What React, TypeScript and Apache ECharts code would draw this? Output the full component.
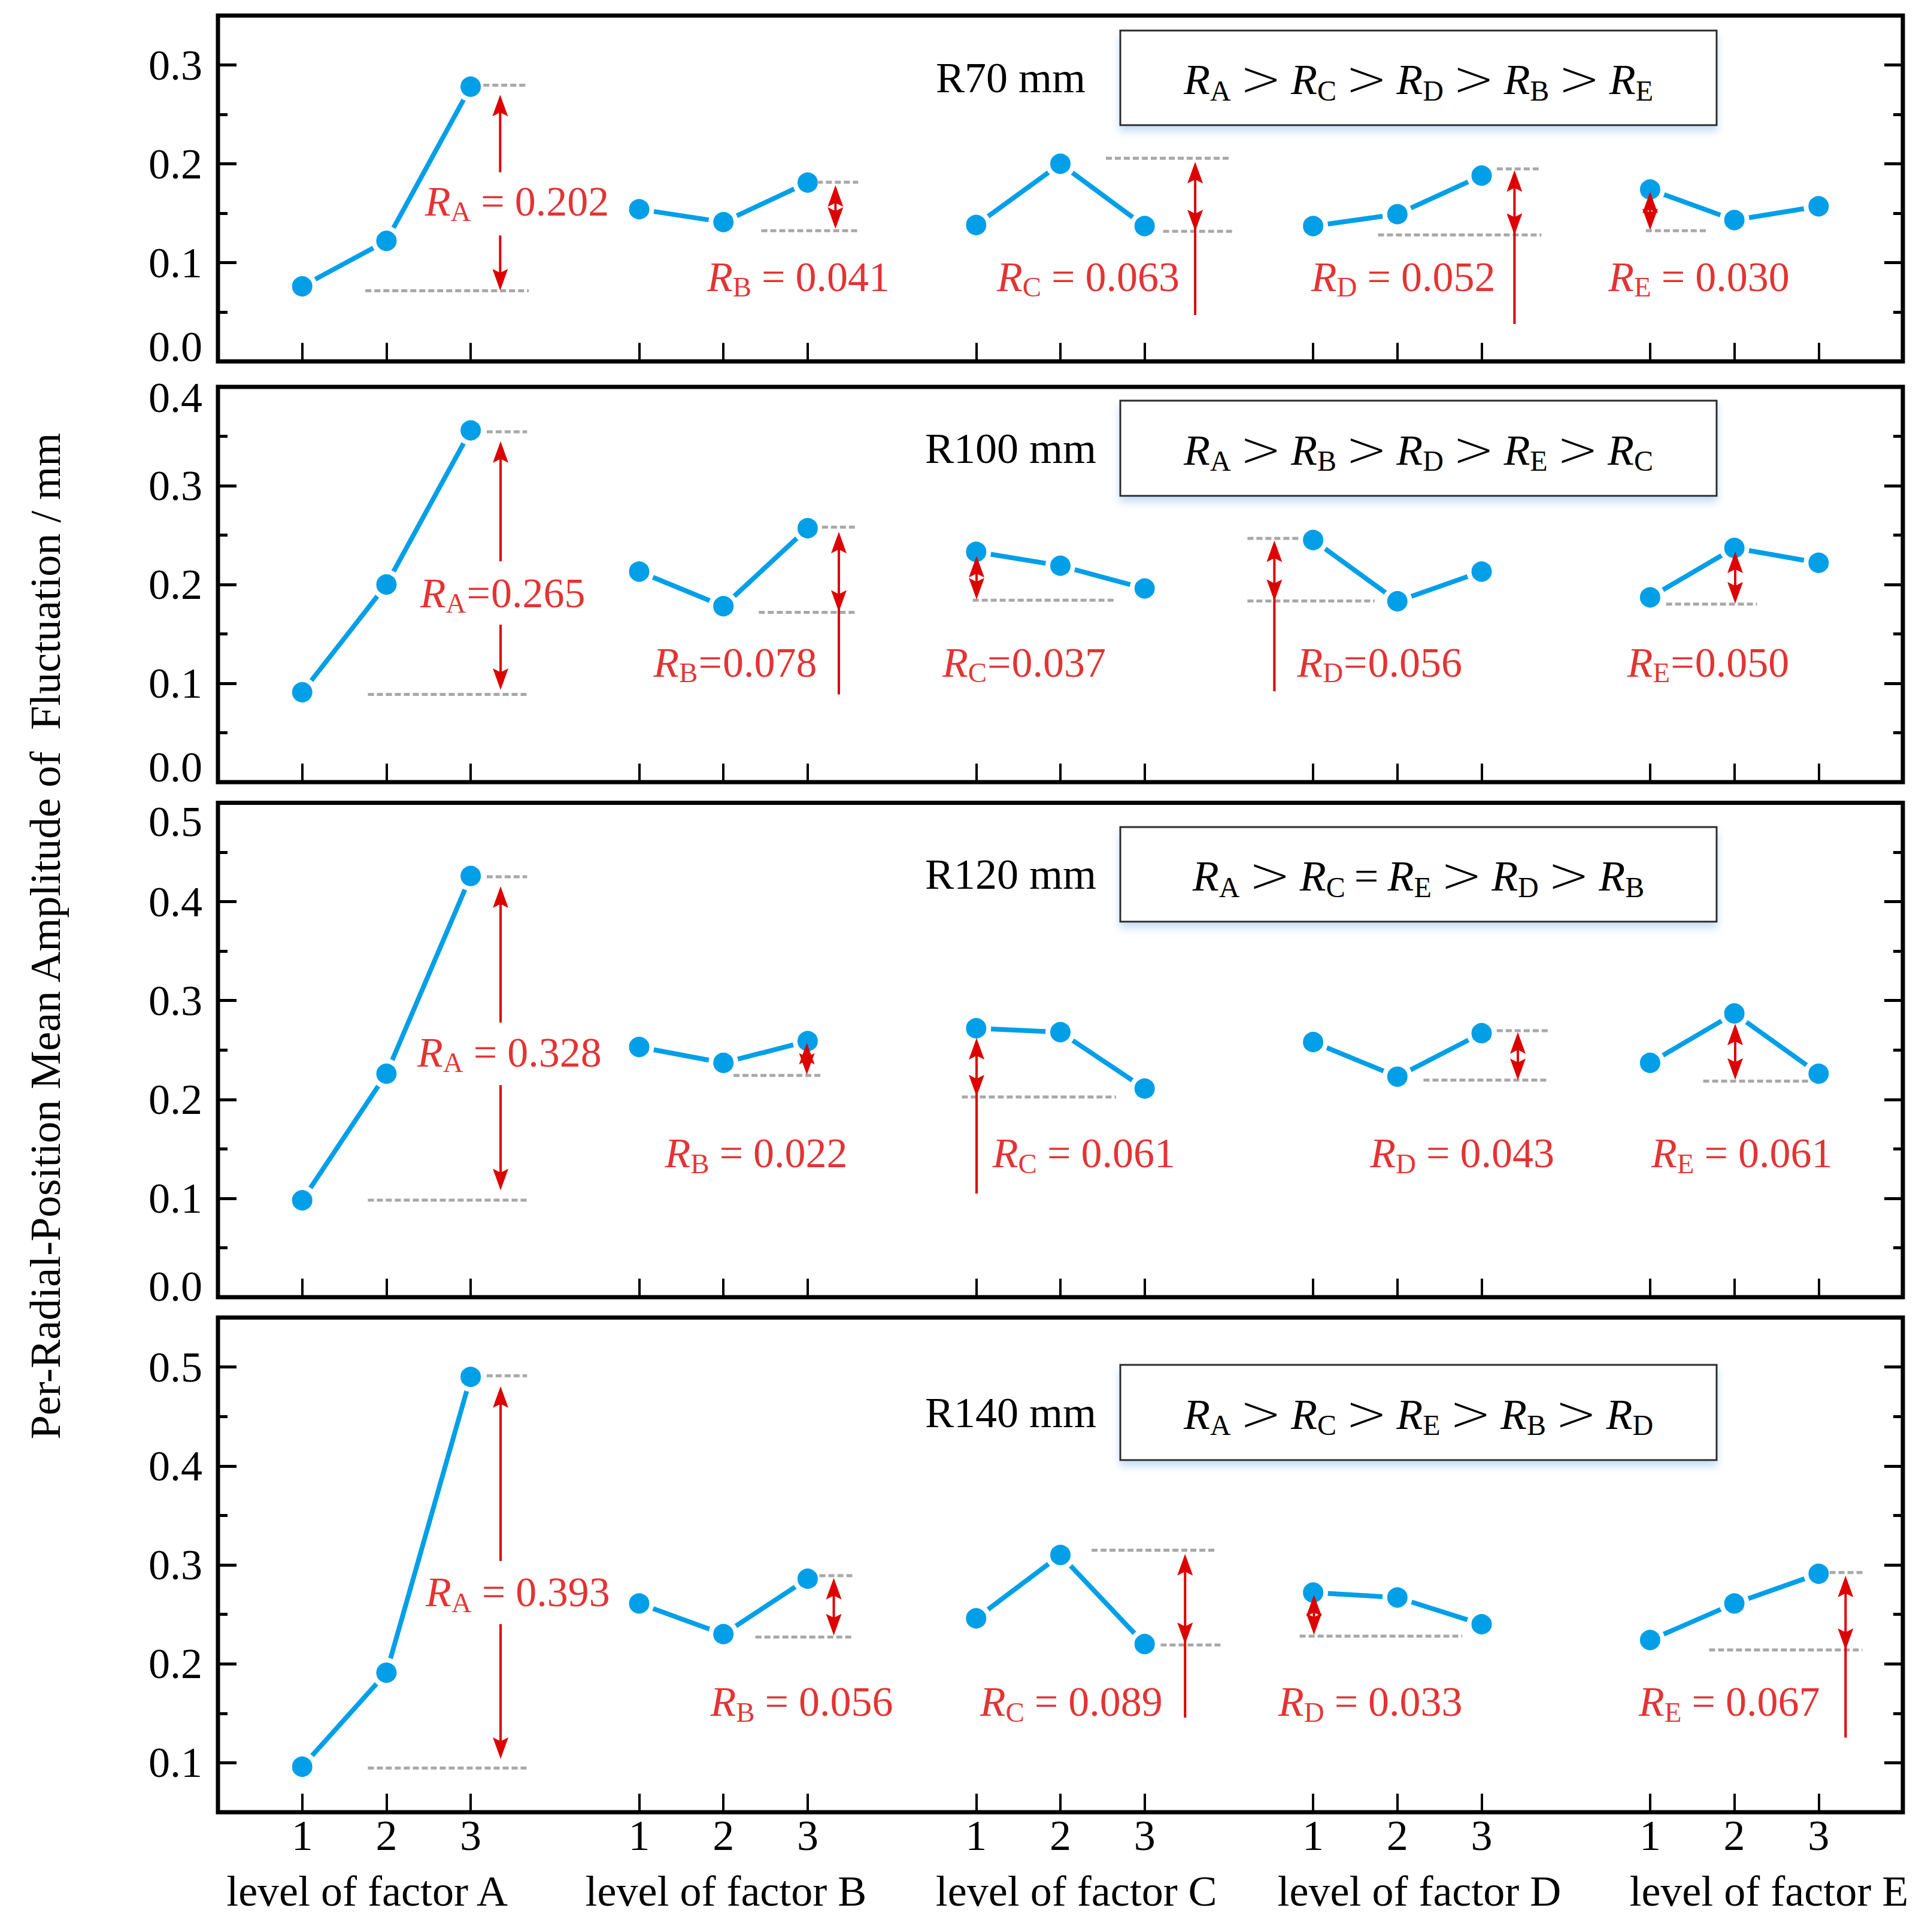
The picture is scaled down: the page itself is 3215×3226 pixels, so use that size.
import React, { useEffect, useRef } from 'react';
import * as echarts from 'echarts';

// ---------------- data ----------------
const FACTORS = ['A', 'B', 'C', 'D', 'E'];
const LEVEL_X = [[1, 2, 3], [5, 6, 7], [9, 10, 11], [13, 14, 15], [17, 18, 19]];
const X_TICKS = [1, 2, 3, 5, 6, 7, 9, 10, 11, 13, 14, 15, 17, 18, 19];
const X_TICK_LABELS = ['1', '2', '3'];
const FACTOR_TITLE_X = [1.77, 6.03, 10.19, 14.26, 18.41];
const FACTOR_TITLES = ['level of factor A', 'level of factor B', 'level of factor C', 'level of factor D', 'level of factor E'];
const Y_TITLE = 'Per-Radial-Position Mean Amplitude of  Fluctuation / mm';

const PANEL_NAMES = ['R70 mm', 'R100 mm', 'R120 mm', 'R140 mm'];

// mean amplitude per factor (A..E) per level (1..3)
const R70 = [[0.076, 0.122, 0.278], [0.154, 0.141, 0.181], [0.138, 0.200, 0.137], [0.137, 0.149, 0.188], [0.174, 0.143, 0.157]];
const R100 = [[0.091, 0.200, 0.356], [0.213, 0.178, 0.257], [0.233, 0.219, 0.196], [0.245, 0.183, 0.213], [0.187, 0.237, 0.222]];
const R120 = [[0.098, 0.226, 0.426], [0.253, 0.237, 0.259], [0.272, 0.268, 0.211], [0.258, 0.223, 0.267], [0.237, 0.287, 0.226]];
const R140 = [[0.096, 0.191, 0.490], [0.261, 0.230, 0.286], [0.246, 0.310, 0.220], [0.272, 0.267, 0.240], [0.224, 0.261, 0.291]];

// range values
const RANGE_R70 = ['0.202', '0.041', '0.063', '0.052', '0.030'];
const RANGE_R100 = ['0.265', '0.078', '0.037', '0.056', '0.050'];
const RANGE_R120 = ['0.328', '0.022', '0.061', '0.043', '0.061'];
const RANGE_R140 = ['0.393', '0.056', '0.089', '0.033', '0.067'];

// ranking
const RANK_R70 = ['A', 'C', 'D', 'B', 'E'];
const RANK_R100 = ['A', 'B', 'D', 'E', 'C'];
const RANK_R120 = ['A', 'C', 'E', 'D', 'B'];
const RANK_R140 = ['A', 'C', 'E', 'B', 'D'];
const OPS_R70 = ['>', '>', '>', '>'];
const OPS_R100 = ['>', '>', '>', '>'];
const OPS_R120 = ['>', '=', '>', '>'];
const OPS_R140 = ['>', '>', '>', '>'];

// y axes
const Y_MIN = [0, 0, 0, 0.05];
const Y_MAX = [0.35, 0.4, 0.5, 0.55];
const Y_MAJOR_R70 = [0, 0.1, 0.2, 0.3];
const Y_MAJOR_R100 = [0, 0.1, 0.2, 0.3, 0.4];
const Y_MAJOR_R120 = [0, 0.1, 0.2, 0.3, 0.4, 0.5];
const Y_MAJOR_R140 = [0.1, 0.2, 0.3, 0.4, 0.5];
const Y_MINOR_R70 = [0.05, 0.15, 0.25];
const Y_MINOR_R100 = [0.05, 0.15, 0.25, 0.35];
const Y_MINOR_R120 = [0.05, 0.15, 0.25, 0.35, 0.45];
const Y_MINOR_R140 = [0.15, 0.25, 0.35, 0.45];

// dashed reference lines [x0, y, x1]
const DASH_R70 = [
  [3.15, 0.2795, 3.67], [1.75, 0.0715, 3.69],
  [7.11, 0.1814, 7.60], [6.45, 0.1323, 7.60],
  [10.54, 0.2056, 12.03], [11.22, 0.1317, 12.05],
  [15.18, 0.1948, 15.69], [13.77, 0.1281, 15.71],
  [16.95, 0.1323, 17.67],
];
const DASH_R100 = [
  [3.19, 0.3546, 3.67], [1.78, 0.0888, 3.69],
  [7.17, 0.258, 7.56], [6.42, 0.1718, 7.59],
  [8.96, 0.1841, 10.66],
  [12.22, 0.2466, 12.84], [12.22, 0.1833, 13.73],
  [17.19, 0.1801, 18.27],
];
const DASH_R120 = [
  [3.19, 0.4252, 3.67], [1.78, 0.0981, 3.69],
  [6.12, 0.2243, 7.17],
  [8.83, 0.2024, 10.66],
  [15.18, 0.2695, 15.79], [14.31, 0.2195, 15.79],
  [17.63, 0.2185, 18.91],
];
const DASH_R140 = [
  [3.19, 0.4912, 3.67], [1.78, 0.0947, 3.69],
  [7.14, 0.2891, 7.53], [6.38, 0.2270, 7.53],
  [10.37, 0.3149, 11.86], [11.19, 0.219, 11.90],
  [12.84, 0.228, 14.77],
  [19.13, 0.2923, 19.54], [17.70, 0.2141, 19.52],
];

// range arrows [x, yTop(up tip), yHead(down tip), yEnd, gapHi, gapLo]
const ARROW_R70 = [
  [3.35, 0.2698, 0.0718, 0.0718, 0.1914, 0.1275],
  [7.33, 0.1784, 0.1342, 0.1342, 0, 0],
  [11.6, 0.202, 0.1317, 0.047, 0, 0],
  [15.39, 0.1935, 0.1281, 0.0379, 0, 0],
  [17.0, 0.1717, 0.1329, 0.1329, 0, 0],
];
const ARROW_R100 = [
  [3.355, 0.345, 0.0933, 0.0933, 0.2235, 0.1594],
  [7.37, 0.2534, 0.1724, 0.0888, 0, 0],
  [9.005, 0.229, 0.1848, 0.1848, 0, 0],
  [12.54, 0.2445, 0.1833, 0.0919, 0, 0],
  [18.01, 0.2334, 0.1807, 0.1807, 0, 0],
];
const ARROW_R120 = [
  [3.355, 0.4155, 0.1081, 0.1081, 0.2777, 0.2144],
  [6.99, 0.2573, 0.225, 0.225, 0, 0],
  [9.005, 0.2621, 0.203, 0.1048, 0, 0],
  [15.43, 0.268, 0.2195, 0.2195, 0, 0],
  [18.01, 0.2767, 0.2199, 0.2199, 0, 0],
];
const ARROW_R140 = [
  [3.355, 0.4805, 0.1038, 0.1038, 0.3039, 0.2401],
  [7.31, 0.2868, 0.2287, 0.2287, 0, 0],
  [11.48, 0.311, 0.22, 0.1456, 0, 0],
  [13.01, 0.2698, 0.2293, 0.2293, 0, 0],
  [19.32, 0.2891, 0.2141, 0.1254, 0, 0],
];

// range label anchors [x, y]
const LABEL_R70 = [[3.55, 0.162], [6.89, 0.0857], [10.33, 0.0857], [14.07, 0.0857], [17.58, 0.0857]];
const LABEL_R100 = [[3.38, 0.1914], [6.14, 0.1211], [9.57, 0.1211], [13.79, 0.1211], [17.69, 0.1211]];
const LABEL_R120 = [[3.46, 0.2477], [6.39, 0.1454], [10.28, 0.1454], [14.77, 0.1454], [18.09, 0.1454]];
const LABEL_R140 = [[3.56, 0.2722], [6.93, 0.1615], [10.13, 0.1615], [13.68, 0.1615], [17.94, 0.1615]];

// ---------------- assembly ----------------
const VALUES = [R70, R100, R120, R140];
const RANGES = [RANGE_R70, RANGE_R100, RANGE_R120, RANGE_R140];
const RANKS = [RANK_R70, RANK_R100, RANK_R120, RANK_R140];
const OPS = [OPS_R70, OPS_R100, OPS_R120, OPS_R140];
const Y_MAJOR = [Y_MAJOR_R70, Y_MAJOR_R100, Y_MAJOR_R120, Y_MAJOR_R140];
const Y_MINOR = [Y_MINOR_R70, Y_MINOR_R100, Y_MINOR_R120, Y_MINOR_R140];
const DASHES = [DASH_R70, DASH_R100, DASH_R120, DASH_R140];
const ARROWS = [ARROW_R70, ARROW_R100, ARROW_R120, ARROW_R140];
const LABELS = [LABEL_R70, LABEL_R100, LABEL_R120, LABEL_R140];
const EQ_SPACED = [true, false, true, true];

const SERIF = "'Liberation Serif', 'Times New Roman', serif";
const GT_FONT = "'DejaVu Sans', sans-serif";
const BLUE = '#009FE8';
const RED = '#DD0000';
const GRAY = '#A8A8A8';

const W = 3215;
const H = 3226;
const GRID_LEFT = 364;
const GRID_WIDTH = 2814;
const PANEL_TOP = [26, 646, 1340.5, 2200];
const PANEL_HEIGHT = [577.5, 660, 825.5, 826];
const MIN_LABEL_PAD = [50, 50, 36, 0];
const MAX_LABEL_PAD = [0, 36, 62, 0];
const BOXES = [[1871, 51, 996, 158], [1871, 669, 996, 159], [1871, 1381, 996, 158], [1871, 2279, 996, 159]];
const PANEL_NAME_X = 1688;
const BOX_TEXT_X = 2369;

const HEAD_L = 36;
const HEAD_W = 26;

function buildOption() {
  const grid: any[] = [];
  const xAxis: any[] = [];
  const yAxis: any[] = [];
  const series: any[] = [];
  const title: any[] = [];
  const graphic: any[] = [];

  for (let p = 0; p < 4; p++) {
    grid.push({
      left: GRID_LEFT, top: PANEL_TOP[p], width: GRID_WIDTH, height: PANEL_HEIGHT[p],
      show: true, borderColor: '#000', borderWidth: 7, backgroundColor: 'transparent',
    });

    xAxis.push({
      gridIndex: p, type: 'value', min: 0, max: 20, position: 'bottom',
      splitLine: { show: false }, axisLine: { show: false },
      axisTick: { show: true, inside: true, length: 31, lineStyle: { color: '#000', width: 4 }, customValues: X_TICKS },
      axisLabel: p === 3
        ? {
          show: true, customValues: X_TICKS, margin: 3, fontSize: 72, fontFamily: SERIF, color: '#000',
          formatter: (v: number) => X_TICK_LABELS[(Math.round(v) - 1) % 4],
        }
        : { show: false },
    });

    const common = {
      gridIndex: p, type: 'value', min: Y_MIN[p], max: Y_MAX[p],
      splitLine: { show: false }, axisLine: { show: false },
    };
    const tickLine = { color: '#000', width: 5 };
    const minPad = MIN_LABEL_PAD[p];
    const maxPad = MAX_LABEL_PAD[p];
    yAxis.push({
      ...common, position: 'left',
      axisTick: { show: true, inside: true, length: 31, lineStyle: tickLine, customValues: Y_MAJOR[p] },
      axisLabel: {
        show: true, customValues: Y_MAJOR[p], margin: 26, fontSize: 72, fontFamily: SERIF, color: '#000',
        formatter: (v: number) => {
          const t = v.toFixed(1);
          if (minPad && Math.abs(v - Y_MIN[p]) < 1e-9) return `{lo|${t}}`;
          if (maxPad && Math.abs(v - Y_MAX[p]) < 1e-9) return `{hi|${t}}`;
          return t;
        },
        rich: {
          lo: { fontSize: 72, fontFamily: SERIF, color: '#000', padding: [0, 0, minPad, 0] },
          hi: { fontSize: 72, fontFamily: SERIF, color: '#000', padding: [maxPad, 0, 0, 0] },
        },
      },
    });
    yAxis.push({
      ...common, position: 'left',
      axisTick: { show: true, inside: true, length: 16, lineStyle: tickLine, customValues: Y_MINOR[p] },
      axisLabel: { show: false },
    });
    yAxis.push({
      ...common, position: 'right',
      axisTick: { show: true, inside: true, length: 31, lineStyle: tickLine, customValues: Y_MAJOR[p] },
      axisLabel: { show: false },
    });
    yAxis.push({
      ...common, position: 'right',
      axisTick: { show: true, inside: true, length: 16, lineStyle: tickLine, customValues: Y_MINOR[p] },
      axisLabel: { show: false },
    });

    const yIdx = p * 4;
    // line series
    for (let f = 0; f < 5; f++) {
      series.push({
        type: 'line', xAxisIndex: p, yAxisIndex: yIdx, silent: true, z: 2,
        data: LEVEL_X[f].map((x, i) => [x, VALUES[p][f][i]]),
        symbol: 'circle', symbolSize: 42,
        lineStyle: { color: BLUE, width: 8 },
        itemStyle: { color: BLUE, borderColor: '#fff', borderWidth: 8 },
      });
    }
    // dashed reference lines
    series.push({
      type: 'custom', xAxisIndex: p, yAxisIndex: yIdx, silent: true, z: 3,
      data: DASHES[p],
      renderItem: (params: any, api: any) => {
        const a = api.coord([api.value(0), api.value(1)]);
        const b = api.coord([api.value(2), api.value(1)]);
        return {
          type: 'line',
          shape: { x1: a[0], y1: a[1], x2: b[0], y2: b[1] },
          style: { stroke: GRAY, lineWidth: 5, lineDash: [10, 5] },
        };
      },
    });
    // arrows
    series.push({
      type: 'custom', xAxisIndex: p, yAxisIndex: yIdx, silent: true, z: 4,
      data: ARROWS[p],
      renderItem: (params: any, api: any) => {
        const x = api.value(0);
        const top = api.coord([x, api.value(1)]);
        const head = api.coord([x, api.value(2)]);
        const yEndV = api.value(3);
        const end = api.coord([x, yEndV]);
        const gHi = api.value(4);
        const gLo = api.value(5);
        const px = top[0];
        const ls = { stroke: RED, lineWidth: 4 };
        const children: any[] = [];
        const bottomY = Math.abs(yEndV - api.value(2)) < 1e-9 ? head[1] - HEAD_L * 0.5 : end[1];
        if (gHi > 0) {
          const a = api.coord([x, gHi]);
          const b = api.coord([x, gLo]);
          children.push({ type: 'line', shape: { x1: px, y1: top[1] + HEAD_L * 0.5, x2: px, y2: a[1] }, style: ls });
          children.push({ type: 'line', shape: { x1: px, y1: b[1], x2: px, y2: bottomY }, style: ls });
        } else {
          children.push({ type: 'line', shape: { x1: px, y1: top[1] + HEAD_L * 0.5, x2: px, y2: bottomY }, style: ls });
        }
        children.push({
          type: 'polygon',
          shape: { points: [[px, top[1]], [px - HEAD_W / 2, top[1] + HEAD_L], [px, top[1] + HEAD_L * 0.82], [px + HEAD_W / 2, top[1] + HEAD_L]] },
          style: { fill: RED },
        });
        children.push({
          type: 'polygon',
          shape: { points: [[px, head[1]], [px - HEAD_W / 2, head[1] - HEAD_L], [px, head[1] - HEAD_L * 0.82], [px + HEAD_W / 2, head[1] - HEAD_L]] },
          style: { fill: RED },
        });
        return { type: 'group', children };
      },
    });
    // range labels
    const eqKey = EQ_SPACED[p] ? 'eq' : 'eq0';
    series.push({
      type: 'scatter', xAxisIndex: p, yAxisIndex: yIdx, silent: true, z: 5,
      data: LABELS[p], symbolSize: 1, itemStyle: { color: 'rgba(0,0,0,0)' },
      label: {
        show: true, position: 'inside',
        formatter: (prm: any) => `{r|R}{s|${FACTORS[prm.dataIndex]}}{${eqKey}|=}{n|${RANGES[p][prm.dataIndex]}}`,
        rich: {
          r: { fontFamily: SERIF, fontSize: 70, fontStyle: 'italic', color: RED, lineHeight: 70 },
          s: { fontFamily: SERIF, fontSize: 47, color: RED, lineHeight: 70, padding: [34, 0, 0, 0] },
          eq: { fontFamily: SERIF, fontSize: 70, color: RED, lineHeight: 70, padding: [0, 17, 0, 17] },
          eq0: { fontFamily: SERIF, fontSize: 70, color: RED, lineHeight: 70, padding: [0, 1, 0, 1] },
          n: { fontFamily: SERIF, fontSize: 70, color: RED, lineHeight: 70 },
        },
      },
    });

    // ranking box
    const [bx, by, bw, bh] = BOXES[p];
    graphic.push({
      type: 'rect', z: 20, silent: true,
      shape: { x: bx, y: by, width: bw, height: bh },
      style: {
        fill: '#fff', stroke: '#2a2a2a', lineWidth: 3,
        shadowBlur: 14, shadowOffsetY: 9, shadowColor: 'rgba(150,195,235,0.55)',
      },
    });
    const cy = by + bh / 2;
    title.push({
      text: PANEL_NAMES[p], left: PANEL_NAME_X, top: cy, textAlign: 'center', textVerticalAlign: 'middle',
      padding: 0, z: 30,
      textStyle: { fontFamily: SERIF, fontSize: 72, fontWeight: 'normal', color: '#000' },
    });
    let txt = '';
    RANKS[p].forEach((k, i) => {
      txt += `{r|R}{s|${k}}`;
      if (i < OPS[p].length) txt += OPS[p][i] === '>' ? '{g|>}' : '{e|=}';
    });
    title.push({
      text: txt, left: BOX_TEXT_X, top: cy + 3, textAlign: 'center', textVerticalAlign: 'middle',
      padding: 0, z: 30,
      textStyle: {
        fontFamily: SERIF, fontSize: 72, fontWeight: 'normal', color: '#000',
        rich: {
          r: { fontFamily: SERIF, fontSize: 72, fontStyle: 'italic', fontWeight: 'normal', color: '#000', lineHeight: 72 },
          s: { fontFamily: SERIF, fontSize: 48, fontWeight: 'normal', color: '#000', lineHeight: 72, padding: [36, 0, 0, 0] },
          g: { fontFamily: GT_FONT, fontSize: 84, fontWeight: 200, color: '#000', lineHeight: 72, padding: [0, 15, 4, 15] },
          e: { fontFamily: SERIF, fontSize: 72, fontWeight: 'normal', color: '#000', lineHeight: 72, padding: [0, 15, 0, 15] },
        },
      },
    });
  }

  // factor titles under the bottom panel
  xAxis.push({
    gridIndex: 3, type: 'value', min: 0, max: 20, position: 'bottom',
    splitLine: { show: false }, axisLine: { show: false }, axisTick: { show: false },
    axisLabel: {
      show: true, customValues: FACTOR_TITLE_X, margin: 96, fontSize: 72, fontFamily: SERIF, color: '#000',
      formatter: (v: number) => {
        let best = 0;
        for (let i = 1; i < FACTOR_TITLE_X.length; i++) {
          if (Math.abs(FACTOR_TITLE_X[i] - v) < Math.abs(FACTOR_TITLE_X[best] - v)) best = i;
        }
        return FACTOR_TITLES[best];
      },
    },
  });

  graphic.push({
    type: 'text', x: 76, y: 1563, rotation: Math.PI / 2, silent: true, z: 20,
    style: { text: Y_TITLE, fontSize: 72, fontFamily: SERIF, fill: '#000', align: 'center', verticalAlign: 'middle' },
  });

  return {
    animation: false,
    backgroundColor: '#ffffff',
    title, grid, xAxis, yAxis, series, graphic,
  };
}

export default function App() {
  const ref = useRef<HTMLDivElement>(null);
  useEffect(() => {
    if (!ref.current) return;
    const chart = echarts.init(ref.current, null, { renderer: 'svg' });
    chart.setOption(buildOption() as any);
    return () => chart.dispose();
  }, []);
  return <div ref={ref} style={{ position: 'absolute', left: 0, top: 0, width: W, height: H }} />;
}
